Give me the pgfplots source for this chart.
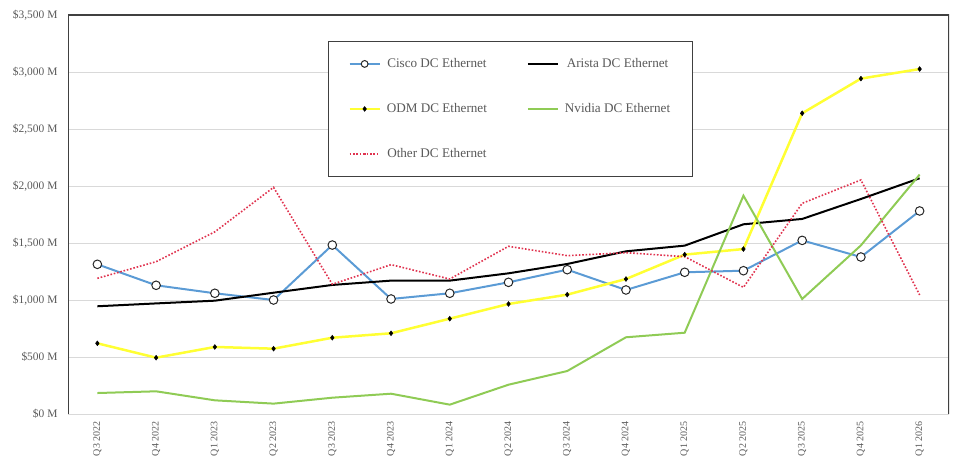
\documentclass[border=0pt]{standalone}
\usepackage{pgfplots}
\pgfplotsset{compat=1.18}
\usepackage{fontspec}
\setmainfont{Liberation Serif}
\definecolor{ciscoc}{HTML}{5B9BD5}
\definecolor{odmc}{HTML}{FFFF33}
\definecolor{nvc}{HTML}{8FCB55}
\definecolor{otherc}{HTML}{E0334F}
\definecolor{txtgray}{HTML}{595959}
\definecolor{gridgray}{HTML}{D9D9D9}
\definecolor{boxgray}{HTML}{404040}
\begin{document}
\begin{tikzpicture}
\begin{axis}[name=ax, scale only axis, width=881bp, height=399bp,
  xmin=-0.5, xmax=14.5, ymin=0, ymax=3500,
  xtick={0,...,14},
  xticklabels={Q3 2022,Q4 2022,Q1 2023,Q2 2023,Q3 2023,Q4 2023,Q1 2024,Q2 2024,Q3 2024,Q4 2024,Q1 2025,Q2 2025,Q3 2025,Q4 2025,Q1 2026},
  x tick label style={rotate=90, anchor=east, font=\fontsize{10}{12}\selectfont, text=txtgray},
  ytick={0,500,1000,1500,2000,2500,3000,3500},
  yticklabels={\$0 M,\$500 M,\$1{,}000 M,\$1{,}500 M,\$2{,}000 M,\$2{,}500 M,\$3{,}000 M,\$3{,}500 M},
  y tick label style={font=\fontsize{11.5}{13}\selectfont, text=txtgray},
  yticklabel shift=7bp, xticklabel shift=4bp,
  ymajorgrids, grid style={gridgray, line width=0.8bp},
  major tick length=0pt,
  axis line style={draw=none},
  legend columns=2,
  legend image code/.code={\draw[mark repeat=2,mark phase=2,#1] plot coordinates {(0bp,0bp) (15bp,0bp) (30bp,0bp)};},
  legend style={at={(0.295,0.935)}, anchor=north west, draw=boxgray, line width=1bp,
    inner xsep=20bp, inner ysep=14bp, font=\fontsize{13.2}{15}\selectfont, text=txtgray,
    row sep=28bp, nodes={inner sep=2bp, text height=10bp, text depth=3bp},
    /tikz/every even column/.append style={column sep=38bp},
    /tikz/every odd column/.append style={column sep=4bp}},
]
\addplot[ciscoc, line width=2bp, mark=*, mark size=4.3bp, mark options={fill=white, draw=black!85, line width=1bp}, legend image post style={mark size=3.4bp}] coordinates {
(0,1313) (1,1129) (2,1059) (3,1000) (4,1482) (5,1009) (6,1059) (7,1155) (8,1266) (9,1088) (10,1243) (11,1257) (12,1523) (13,1377) (14,1781)};
\addlegendentry{Cisco DC Ethernet}
\addplot[black, line width=2bp] coordinates {
(0,945) (1,970) (2,994) (3,1064) (4,1132) (5,1170) (6,1170) (7,1234) (8,1316) (9,1427) (10,1477) (11,1664) (12,1711) (13,1886) (14,2068)};
\addlegendentry{Arista DC Ethernet}
\addplot[odmc, line width=2.5bp, mark=diamond*, mark size=2.4bp, mark options={fill=black, draw=black, line width=0.5bp}] coordinates {
(0,620) (1,494) (2,588) (3,573) (4,669) (5,708) (6,836) (7,965) (8,1047) (9,1184) (10,1398) (11,1447) (12,2638) (13,2942) (14,3026)};
\addlegendentry{ODM DC Ethernet}
\addplot[nvc, line width=2bp] coordinates {
(0,184) (1,199) (2,120) (3,91) (4,143) (5,178) (6,82) (7,257) (8,377) (9,673) (10,713) (11,1915) (12,1009) (13,1479) (14,2100)};
\addlegendentry{Nvidia DC Ethernet}
\addplot[otherc, line width=1.6bp, dash pattern=on 1.6bp off 1.8bp] coordinates {
(0,1190) (1,1336) (2,1598) (3,1988) (4,1138) (5,1310) (6,1184) (7,1471) (8,1389) (9,1415) (10,1380) (11,1111) (12,1848) (13,2053) (14,1044)};
\addlegendentry{Other DC Ethernet}
\draw[boxgray, line width=1.2bp] (rel axis cs:0,0) -- (rel axis cs:0,1) -- (rel axis cs:1,1) -- (rel axis cs:1,0);
\end{axis}
\pgfresetboundingbox
\path ([shift={(-68bp,-58bp)}]ax.south west) rectangle ([shift={(11bp,15bp)}]ax.north east);
\end{tikzpicture}
\end{document}
